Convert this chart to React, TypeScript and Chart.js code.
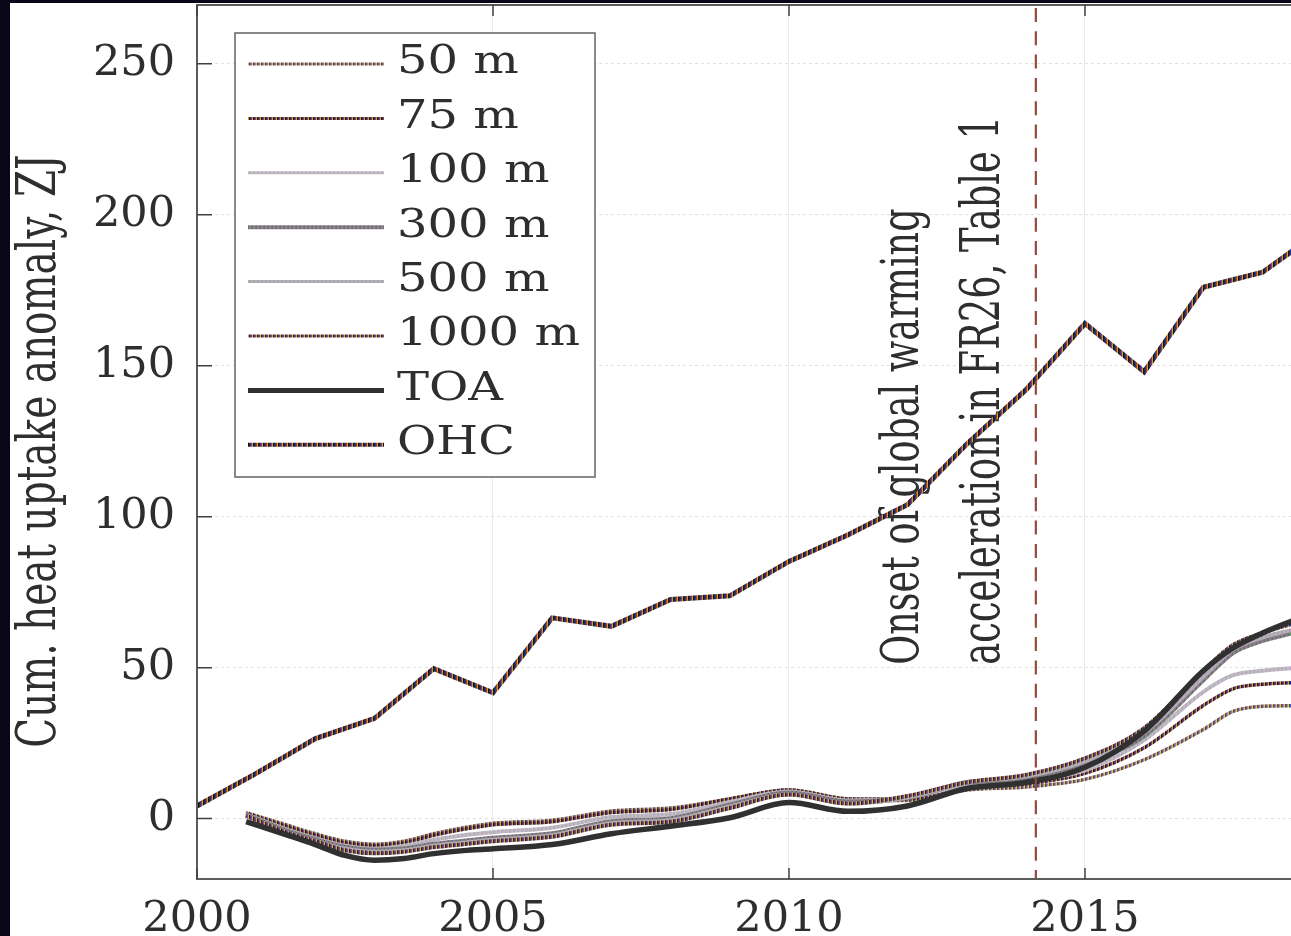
import React, { useEffect, useRef } from 'react';
import { Chart, registerables } from 'chart.js';

Chart.register(...registerables);

// ---------- data ----------
const ohcYears = [2000, 2001, 2002, 2003, 2004, 2005, 2006, 2007, 2008, 2009, 2010, 2011, 2012, 2013, 2014, 2015, 2016, 2017, 2018, 2019];
const ohcValues = [4.2, 15, 26.5, 33.2, 49.7, 41.7, 66.5, 63.7, 72.6, 73.8, 85.2, 94, 104, 124, 142, 164, 148, 176, 181, 195];

const layerYears = [2000.83, 2001.5, 2002, 2002.5, 2003, 2003.5, 2004, 2004.5, 2005, 2006, 2007, 2008, 2009, 2010, 2011, 2012, 2013, 2014, 2015, 2016, 2017, 2017.5, 2018, 2018.5, 2019];
const toaValues = [-1, -5.3, -8.6, -12.2, -13.8, -13.2, -11.6, -10.6, -10, -8.6, -5, -2.5, 0.3, 5.3, 2.4, 4.2, 10, 12, 17, 29, 49, 56.5, 61.5, 65.5, 69];
const m50Values = [2, -2, -5, -7.5, -8.5, -7.5, -5, -3, -1.5, -0.5, 2.5, 3.5, 6.5, 9.5, 6.5, 6, 9.5, 10.5, 13, 19.5, 29.5, 35.5, 37.2, 37.4, 37.5];
const m75Values = [1.8, -2.5, -5.5, -8, -9, -8, -5.5, -3.5, -2, -1, 2, 3, 6.5, 9.5, 6.5, 6.5, 10, 11.5, 15, 23.5, 37.5, 43, 44.5, 45, 45.3];
const m100Values = [1.5, -3.5, -6.5, -9, -10, -9, -7, -5.5, -4.5, -3, 0.5, 1.5, 5.5, 9, 6, 7, 11, 12.5, 16, 26, 42, 47.5, 49, 49.8, 50.5];
const m300Values = [1.2, -4, -7, -9.5, -10.5, -10, -8.5, -7.5, -6.5, -5, -1, 0, 4.5, 8.5, 5.5, 7, 12, 13.5, 18.5, 27.5, 46, 55, 59, 61.5, 64];
const m500Values = [1, -4.5, -7.5, -10, -11, -10.5, -9, -8, -7, -5.5, -1.5, -0.5, 4, 8, 5, 7, 12, 14, 19, 28.5, 47, 56, 60, 62.5, 65];
const m1000Values = [1, -4.5, -7.5, -10.5, -11.5, -11, -9.5, -8.5, -7.5, -6, -2, -1, 3.5, 8, 5, 7.5, 12, 14.5, 20, 30, 49, 57.5, 61.5, 64.5, 67];

const seriesLabels = ['50 m', '75 m', '100 m', '300 m', '500 m', '1000 m', 'TOA', 'OHC'];
const xTicks = [2000, 2005, 2010, 2015];
const yTicks = [0, 50, 100, 150, 200, 250];
const onsetYear = 2014.17;
const annotationLines = ['Onset of global warming', 'acceleration in FR26, Table 1'];
const yAxisTitle = 'Cum. heat uptake anomaly, ZJ';

const X_MIN = 2000;
const X_MAX = 2018.48;
const Y_MIN = -20;
const Y_MAX = 269.5;

const FONT = 'DejaVu Serif';
const TEXT = '#2e2e2e';

export default function App() {
  const ref = useRef<HTMLCanvasElement>(null);

  useEffect(() => {
    document.body.style.margin = '0';
    document.body.style.background = '#0a0617';
    document.body.style.overflow = 'hidden';
    const canvas = ref.current!;
    const c2d = canvas.getContext('2d')!;

    const stripes = (colors: string[]) => {
      const c = document.createElement('canvas');
      c.width = colors.length;
      c.height = 1;
      const g = c.getContext('2d')!;
      colors.forEach((col, i) => {
        g.fillStyle = col;
        g.fillRect(i, 0, 1, 1);
      });
      return c2d.createPattern(c, 'repeat')!;
    };

    const p50 = stripes(['#3a66d4', '#d8784e', '#e2c25a', '#4a4a4a']);
    const p75 = stripes(['#1c32a4', '#a8342a', '#c9a234', '#1c1c1c']);
    const p100 = stripes(['#cfa2cf', '#a9c8ae', '#c2c2c2', '#b6aabf']);
    const p300 = stripes(['#4ea64e', '#b94cb9', '#6a6a6a', '#8a8a8a']);
    const p500 = stripes(['#c59ac5', '#a0c0a6', '#b4b4b4', '#a8a0b2']);
    const p1000 = stripes(['#2a42b8', '#b44232', '#d0b042', '#262626']);
    const pOhc = stripes(['#1c36b0', '#b8342a', '#c8a030', '#161616', '#2a2a2a']);

    const pts = (xs: number[], ys: number[]) => xs.map((x, i) => ({ x, y: ys[i] }));

    const layerSeries = [m50Values, m75Values, m100Values, m300Values, m500Values, m1000Values];
    const layerColors = [p50, p75, p100, p300, p500, p1000];
    const layerWidths = [3.5, 3.5, 4, 5, 4, 4];
    const layerOrder = [6, 5, 4, 3, 2, 1];

    const datasets: any[] = layerSeries.map((vals, i) => ({
      label: seriesLabels[i],
      data: pts(layerYears, vals),
      borderColor: layerColors[i],
      borderWidth: layerWidths[i],
      pointRadius: 0,
      fill: false,
      cubicInterpolationMode: 'monotone',
      order: layerOrder[i],
    }));
    datasets.push({
      label: seriesLabels[6],
      data: pts(layerYears, toaValues),
      borderColor: '#303030',
      borderWidth: 5.5,
      pointRadius: 0,
      fill: false,
      cubicInterpolationMode: 'monotone',
      order: 0,
    });
    datasets.push({
      label: seriesLabels[7],
      data: pts(ohcYears, ohcValues),
      borderColor: pOhc,
      borderWidth: 5,
      pointRadius: 0,
      fill: false,
      tension: 0,
      order: 7,
    });

    const legendWidths = [3, 3, 3, 4, 3, 3, 5, 4];

    const drawRotated = (ctx: CanvasRenderingContext2D, text: string, x: number, y: number, size: number, stretch: number, align: CanvasTextAlign) => {
      ctx.save();
      ctx.translate(x, y);
      ctx.rotate(-Math.PI / 2);
      ctx.scale(1, stretch);
      ctx.font = `${size}px "${FONT}"`;
      ctx.fillStyle = TEXT;
      ctx.textAlign = align;
      ctx.textBaseline = 'alphabetic';
      ctx.fillText(text, 0, 0);
      ctx.restore();
    };

    const decor = {
      id: 'decor',
      beforeDatasetsDraw(chart: any) {
        const { ctx, chartArea, scales } = chart;
        const xd = scales.x.getPixelForValue(onsetYear);
        const y0 = scales.y.getPixelForValue(51);
        drawRotated(ctx, annotationLines[0], xd - 118, y0, 36.5, 1.45, 'left');
        drawRotated(ctx, annotationLines[1], xd - 37, y0, 36.8, 1.45, 'left');
        drawRotated(ctx, yAxisTitle, 45, (chartArea.top + chartArea.bottom) / 2 + 9, 39, 1.4, 'center');
      },
      afterDatasetsDraw(chart: any) {
        const { ctx, chartArea, scales } = chart;
        const { left, right, top, bottom } = chartArea;
        ctx.save();
        const xd = scales.x.getPixelForValue(onsetYear);
        ctx.beginPath();
        ctx.setLineDash([14, 9.3]);
        ctx.strokeStyle = '#944a3c';
        ctx.lineWidth = 2.2;
        ctx.moveTo(xd, top + 3);
        ctx.lineTo(xd, bottom);
        ctx.stroke();
        ctx.setLineDash([]);

        ctx.strokeStyle = '#5c5c5c';
        ctx.lineWidth = 2;
        ctx.beginPath();
        ctx.moveTo(right + 2, top);
        ctx.lineTo(left, top);
        ctx.lineTo(left, bottom);
        ctx.lineTo(right + 2, bottom);
        ctx.stroke();

        ctx.strokeStyle = '#404040';
        ctx.lineWidth = 1.5;
        ctx.beginPath();
        xTicks.forEach((v) => {
          const px = scales.x.getPixelForValue(v);
          ctx.moveTo(px, bottom);
          ctx.lineTo(px, bottom - 11);
          ctx.moveTo(px, top);
          ctx.lineTo(px, top + 11);
        });
        yTicks.forEach((v) => {
          const py = scales.y.getPixelForValue(v);
          ctx.moveTo(left, py);
          ctx.lineTo(left + 15, py);
        });
        ctx.stroke();

        const lx = left + 38;
        const ly = top + 28;
        const lw = 360;
        const lh = 444;
        ctx.fillStyle = '#ffffff';
        ctx.fillRect(lx, ly, lw, lh);
        ctx.strokeStyle = '#5f665f';
        ctx.lineWidth = 1.5;
        ctx.strokeRect(lx, ly, lw, lh);
        const legendOrder = [0, 1, 2, 3, 4, 5, 6, 7];
        legendOrder.forEach((di, row) => {
          const ds = chart.data.datasets[di];
          const ry = ly + 31 + row * 54.4;
          ctx.beginPath();
          ctx.strokeStyle = ds.borderColor;
          ctx.lineWidth = legendWidths[di];
          ctx.moveTo(lx + 13, ry);
          ctx.lineTo(lx + 149, ry);
          ctx.stroke();
          ctx.save();
          ctx.translate(lx + 162, ry - 1);
          ctx.scale(1.2, 1);
          ctx.font = `40px "${FONT}"`;
          ctx.fillStyle = TEXT;
          ctx.textAlign = 'left';
          ctx.textBaseline = 'middle';
          ctx.fillText(ds.label, 0, 0);
          ctx.restore();
        });
        ctx.restore();
      },
    };

    const chart = new Chart(canvas, {
      type: 'line',
      data: { datasets },
      options: {
        animation: false,
        responsive: false,
        layout: { padding: { top: 2, right: 0, bottom: 0, left: 0 } },
        plugins: { legend: { display: false }, tooltip: { enabled: false } },
        scales: {
          x: {
            type: 'linear',
            min: X_MIN,
            max: X_MAX,
            afterBuildTicks: (s: any) => {
              s.ticks = xTicks.map((v) => ({ value: v }));
            },
            afterFit: (s: any) => {
              s.height = 57;
              s.paddingLeft = 0;
              s.paddingRight = 0;
            },
            grid: { color: '#e9e9ee', lineWidth: 1, drawTicks: false },
            border: { display: false },
            ticks: {
              font: { family: FONT, size: 43 },
              color: TEXT,
              padding: 15,
              maxRotation: 0,
              autoSkip: false,
              callback: (v: any) => String(v),
            },
          },
          y: {
            type: 'linear',
            min: Y_MIN,
            max: Y_MAX,
            afterBuildTicks: (s: any) => {
              s.ticks = yTicks.map((v) => ({ value: v }));
            },
            afterFit: (s: any) => {
              s.width = 187;
              s.paddingTop = 0;
              s.paddingBottom = 0;
            },
            grid: { color: '#e0e0e0', lineWidth: 1, drawTicks: false },
            border: { display: false, dash: [3, 3] },
            ticks: {
              font: { family: FONT, size: 43 },
              color: TEXT,
              padding: 22,
              autoSkip: false,
              callback: (v: any) => String(v),
            },
          },
        },
      },
      plugins: [decor],
    } as any);

    return () => chart.destroy();
  }, []);

  return (
    <div style={{ position: 'relative', width: 1291, height: 936, background: '#0a0617', overflow: 'hidden' }}>
      <div style={{ position: 'absolute', left: 10, top: 3, width: 1281, height: 933, background: '#ffffff' }}>
        <canvas ref={ref} width={1281} height={933} style={{ display: 'block' }} />
      </div>
    </div>
  );
}
